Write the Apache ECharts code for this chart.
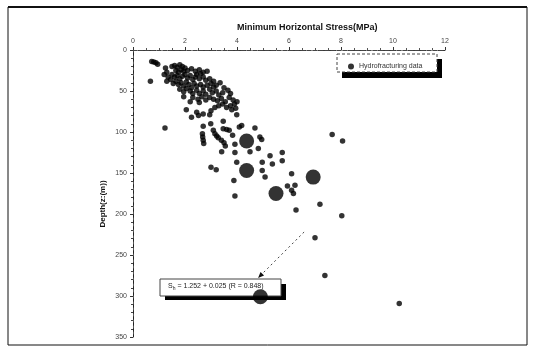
<!DOCTYPE html>
<html><head><meta charset="utf-8">
<script src="https://cdn.jsdelivr.net/npm/echarts@6/dist/echarts.min.js"></script>
<style>html,body{margin:0;padding:0;background:#fff}#c{width:537px;height:356px}</style>
</head><body><div id="c"></div>
<script>
// Minimum horizontal stress (MPa) vs depth (m)
const hydroPoints = [
[0.72,14],[0.8,14.5],[0.88,15.5],[0.95,17.5],[0.67,38],
[1.25,22],[1.3,27],[1.2,30],[1.35,33],[1.3,38],[1.45,36],[1.55,41],
[1.5,20],[1.6,19],[1.7,21],[1.8,18],[1.9,20],[2.0,22],[1.65,25],[1.75,27],[1.85,24],[1.95,26],[2.1,25],[2.25,23],[2.4,26],[2.55,24],[2.7,27],[2.85,26],[2.6,29],[2.45,30],
[1.5,30],[1.6,33],[1.7,31],[1.8,35],[1.9,32],[2.0,30],[2.1,34],[2.2,31],[2.3,36],[2.4,33],[2.55,35],[2.7,33],[2.8,37],[2.95,35],[3.1,38],
[1.65,38],[1.75,42],[1.85,40],[1.95,44],[2.05,39],[2.15,42],[2.25,46],[2.35,41],[2.45,44],[2.6,42],[2.7,45],[2.85,43],[3.0,41],[3.1,45],[3.2,43],[3.35,40],
[1.8,48],[1.95,51],[2.05,47],[2.2,50],[2.3,53],[2.45,49],[2.55,53],[2.7,50],[2.8,54],[2.95,48],[3.05,52],[3.2,50],[3.3,55],[3.45,52],[3.5,46],[3.65,49],[3.75,53],
[1.95,57],[2.3,58],[2.5,60],[2.65,57],[2.8,61],[2.95,58],[3.1,60],[3.25,62],[3.4,59],[3.55,63],[3.7,58],[3.85,61],[4.0,63],[3.9,66],[3.75,68],[3.6,70],[3.45,66],[3.3,68],[3.15,70],[3.95,71],[3.8,73],[2.2,63],[2.55,64],
[2.05,73],[2.25,82],[2.45,76],[2.52,80],[2.7,78],[2.95,79],[3.0,74],[3.99,79],
[1.23,95],[2.7,93],[2.99,90],[3.47,87],[2.67,102],[2.68,106],[2.7,110],[2.72,114],[3.09,98],[3.15,102],[3.22,105],[3.28,107],[3.4,110],[3.5,113],[3.55,117],
[3.47,96],[3.7,98],[3.6,97],[3.83,104],[4.09,94],[4.18,92],[4.69,95],[3.92,115],[4.88,106],[4.95,109],[4.82,120],[4.5,124],[3.41,124],[3.92,125],
[5.27,129],[5.74,125],[3.99,137],[4.97,137],[5.36,139],[5.74,135],[3.0,143],[3.2,146],[4.97,147],[5.08,155],[3.88,159],[3.92,178],
[6.1,151],[5.94,166],[6.23,165],[6.1,171],[6.17,175],[6.27,195],[7.19,188],[8.03,202],[7.0,229],[7.38,275],[10.24,309],[7.66,103],[8.06,111]
];
const largePoints = [[4.37,111],[4.37,147],[5.5,175],[6.93,155],[4.9,301]];
const xMin = 0, xMax = 12, xStep = 2;
const yMin = 0, yMax = 350, yStep = 50;
const seriesName = 'Hydrofracturing data';
const titleText = 'Minimum Horizontal Stress(MPa)';
const yName = 'Depth(z:(m))';
const annotationText = '{s|S}{sub|h}{s| = 1.252 + 0.025 (R = 0.848)}';
const arrowFrom = [6.58, 222], arrowTo = [4.81, 278];

const chart = echarts.init(document.getElementById('c'), null, {renderer:'canvas'});
const font = 'Liberation Sans, Arial, sans-serif';
const axisCommon = {type:'value', splitLine:{show:false}};
chart.setOption({
  animation:false,
  backgroundColor:'#fff',
  textStyle:{fontFamily:font},
  grid:{left:133, top:50, width:312, height:287, containLabel:false},
  xAxis:[
    Object.assign({}, axisCommon, {position:'top', min:xMin, max:xMax, interval:xStep,
      axisLine:{show:true, lineStyle:{color:'#333', width:1, type:[3,2]}},
      axisTick:{show:true, inside:false, length:3, lineStyle:{color:'#333'}},
      minorTick:{show:true, splitNumber:4, length:2, lineStyle:{color:'#555'}},
      axisLabel:{fontSize:7, color:'#444', margin:5, fontFamily:font}}),
    Object.assign({}, axisCommon, {position:'bottom', min:xMin, max:xMax, interval:xStep,
      axisLine:{show:true, lineStyle:{color:'#444', width:1, type:[4,2]}},
      axisTick:{show:false}, axisLabel:{show:false}})
  ],
  yAxis:[
    Object.assign({}, axisCommon, {position:'left', inverse:true, min:yMin, max:yMax, interval:yStep,
      axisLine:{show:true, lineStyle:{color:'#222', width:1}},
      axisTick:{show:true, inside:false, length:3, lineStyle:{color:'#333'}},
      minorTick:{show:true, splitNumber:5, length:2, lineStyle:{color:'#444'}},
      axisLabel:{fontSize:7, color:'#444', margin:6, fontFamily:font}}),
    Object.assign({}, axisCommon, {position:'right', inverse:true, min:yMin, max:yMax, interval:yStep,
      axisLine:{show:true, lineStyle:{color:'#555', width:1, type:[2,4]}},
      axisTick:{show:false}, axisLabel:{show:false}})
  ],
  title:{text:titleText, left:232, top:18, textStyle:{fontSize:9, fontWeight:'bold', color:'#111', fontFamily:font}},
  legend:{data:[seriesName], left:343, top:58, itemWidth:6, itemHeight:6, icon:'circle', z:20,
    textStyle:{fontSize:7, color:'#333', fontFamily:font}, itemGap:4},
  series:[
    {name:seriesName, type:'scatter', xAxisIndex:0, yAxisIndex:0, data:hydroPoints, symbolSize:5.5,
      itemStyle:{color:'#000'}, z:10, zlevel:1},
    {name:'large', type:'scatter', xAxisIndex:0, yAxisIndex:0, data:largePoints, symbolSize:15,
      itemStyle:{color:'#000'}, z:11, zlevel:1}
  ]
});
const pFrom = chart.convertToPixel({xAxisIndex:0, yAxisIndex:0}, arrowFrom);
const pTo = chart.convertToPixel({xAxisIndex:0, yAxisIndex:0}, arrowTo);
const ang = Math.atan2(pTo[1]-pFrom[1], pTo[0]-pFrom[0]);
const ah = 6, aw = 2.5;
const bx = pTo[0]-ah*Math.cos(ang), by = pTo[1]-ah*Math.sin(ang);
const arrowHead = [[pTo[0],pTo[1]],[bx - aw*Math.sin(ang), by + aw*Math.cos(ang)],[bx + aw*Math.sin(ang), by - aw*Math.cos(ang)]];
chart.setOption({
  graphic:[
    {type:'rect', shape:{x:8,y:7,width:519,height:338}, style:{fill:'none', stroke:'#111', lineWidth:1}, z:0},
    {type:'line', shape:{x1:8,y1:7,x2:527,y2:7}, style:{stroke:'#111', lineWidth:2}, z:0},
    {type:'text', x:103, y:204, rotation:Math.PI/2, z:1, style:{text:yName, fill:'#111', font:'bold 8px '+font, align:'center', verticalAlign:'middle'}},
    {type:'rect', shape:{x:342,y:59,width:100,height:19}, style:{fill:'#000'}, z:0},
    {type:'rect', shape:{x:337,y:54,width:100,height:18}, style:{fill:'#fff', stroke:'#444', lineWidth:1, lineDash:[3,2]}, z:1},
    {type:'rect', shape:{x:165,y:284,width:121,height:16}, style:{fill:'#000'}, z:0},
    {type:'rect', shape:{x:160,y:279,width:121,height:17}, style:{fill:'#fff', stroke:'#444', lineWidth:1}, z:1},
    {type:'text', x:168, y:282, z:2, style:{text:annotationText, fill:'#222', font:'7px '+font,
      rich:{s:{fontSize:7, fill:'#222', fontFamily:font}, sub:{fontSize:5, fill:'#222', fontFamily:font, padding:[4,0,0,0]}}}},
    {type:'line', shape:{x1:pFrom[0],y1:pFrom[1],x2:bx,y2:by}, style:{stroke:'#444', lineWidth:1, lineDash:[2,3]}, z:2},
    {type:'polygon', shape:{points:arrowHead}, style:{fill:'#111'}, z:2}
  ]
});
</script></body></html>
